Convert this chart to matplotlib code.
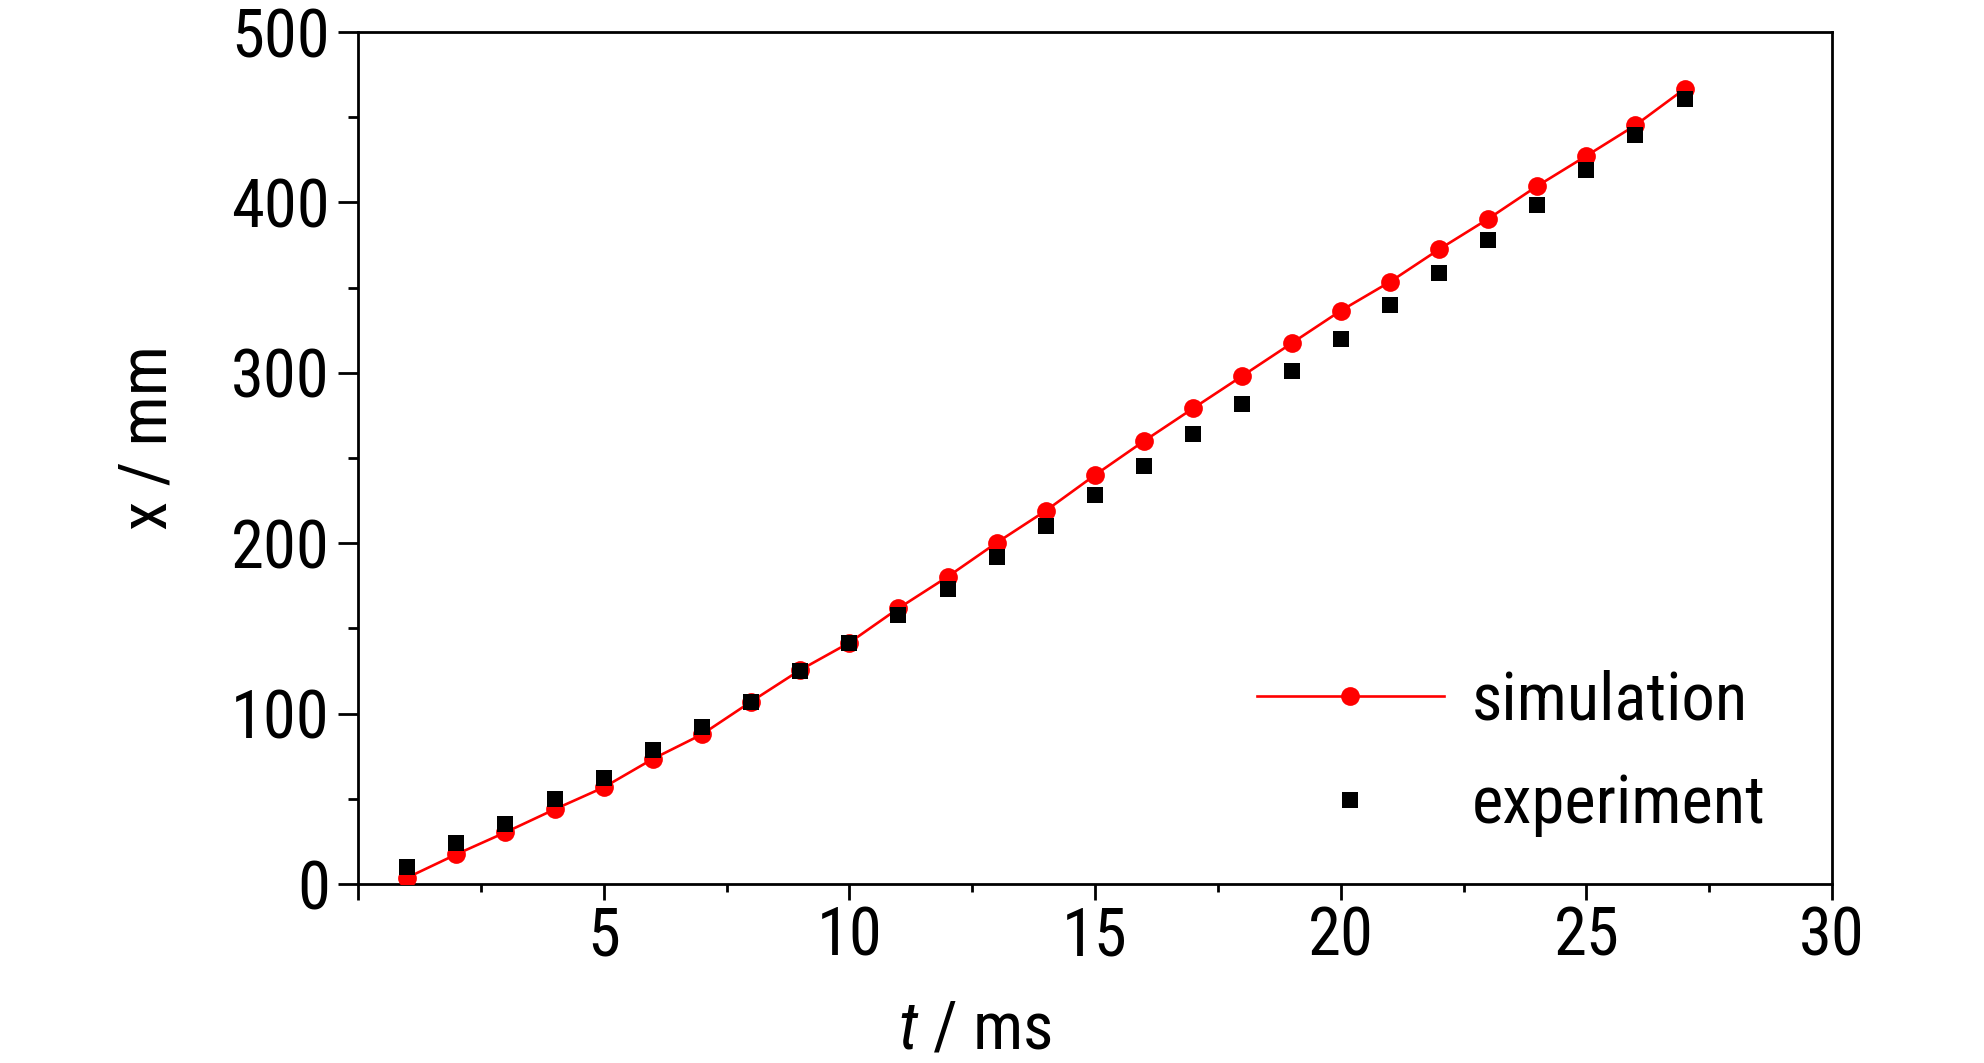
import matplotlib
matplotlib.use("Agg")
import matplotlib.pyplot as plt
from matplotlib import font_manager
from matplotlib.ticker import MultipleLocator, FixedLocator

t_ms = [1, 2, 3, 4, 5, 6, 7, 8, 9, 10, 11, 12, 13, 14, 15, 16, 17, 18, 19, 20,
        21, 22, 23, 24, 25, 26, 27]
simulation = [3.7, 17.4, 30.3, 43.8, 56.7, 73.4, 87.8, 107.0, 125.6, 141.6, 161.8,
              180.3, 200.3, 219.1, 240.0, 260.0, 279.2, 298.2, 317.3, 336.4, 353.3,
              372.4, 390.3, 409.6, 427.3, 445.3, 466.6]
experiment = [10.2, 23.9, 35.0, 49.9, 62.4, 78.6, 92.3, 107.0, 125.0, 141.6, 157.9,
              172.9, 192.1, 210.3, 228.4, 245.2, 263.8, 281.4, 300.9, 320.0, 339.5,
              358.4, 377.7, 398.6, 418.8, 439.7, 460.8]
x_ticks = [0, 5, 10, 15, 20, 25, 30]
x_tick_labels = ["", "5", "10", "15", "20", "25", "30"]
y_ticks = [0, 100, 200, 300, 400, 500]

names = {f.name for f in font_manager.fontManager.ttflist}
fam = "Liberation Sans"
for cand in ["Roboto Condensed", "PT Sans Narrow", "Archivo Narrow"]:
    if cand in names:
        fam = cand
        break
plt.rcParams["font.family"] = [fam, "DejaVu Sans"]
plt.rcParams["mathtext.fontset"] = "custom"
plt.rcParams["mathtext.it"] = fam + ":italic"
plt.rcParams["mathtext.rm"] = fam

FS = 48
W, H = 1984, 1063
fig = plt.figure(figsize=(W / 100, H / 100), dpi=100)
L, R, T, B = 358, 1832, 32, 884
ax = fig.add_axes([L / W, 1 - B / H, (R - L) / W, (B - T) / H])

ax.plot(t_ms, simulation, color="#ff0000", lw=1.9, marker="o", ms=13.5,
        markeredgewidth=0, label="simulation", zorder=3)
ax.plot(t_ms, experiment, color="black", lw=0, marker="s", ms=11.5,
        markeredgewidth=0, label="experiment", zorder=4)

ax.set_xlim(0, 30)
ax.set_ylim(0, 500)
ax.xaxis.set_major_locator(FixedLocator(x_ticks))
ax.set_xticklabels(x_tick_labels)
ax.xaxis.set_minor_locator(MultipleLocator(2.5))
ax.yaxis.set_major_locator(FixedLocator(y_ticks))
ax.yaxis.set_minor_locator(MultipleLocator(50))

for s in ax.spines.values():
    s.set_linewidth(2.0)
ax.tick_params(axis="both", which="both", direction="out", width=2.0,
               top=False, right=False, labelsize=FS)
ax.tick_params(axis="x", which="major", length=11.5, pad=4)
ax.tick_params(axis="x", which="minor", length=6)
ax.tick_params(axis="y", which="major", length=14.4, pad=6)
ax.tick_params(axis="y", which="minor", length=7.2)

fig.text(148 / W, 1 - 437 / H, "x / mm", rotation=90, fontsize=FS,
         ha="center", va="center")
fig.text(975 / W, 1 - 1030 / H, r"$t$ / ms", fontsize=FS,
         ha="center", va="center")

leg = ax.legend(loc="center left", bbox_to_anchor=(1257 / W, 1 - 753 / H),
                bbox_transform=fig.transFigure, frameon=False, fontsize=FS,
                handlelength=2.8, handletextpad=0.42, labelspacing=0.6,
                borderaxespad=0, borderpad=0, markerscale=1.0)

fig.savefig("out.png", dpi=100)
